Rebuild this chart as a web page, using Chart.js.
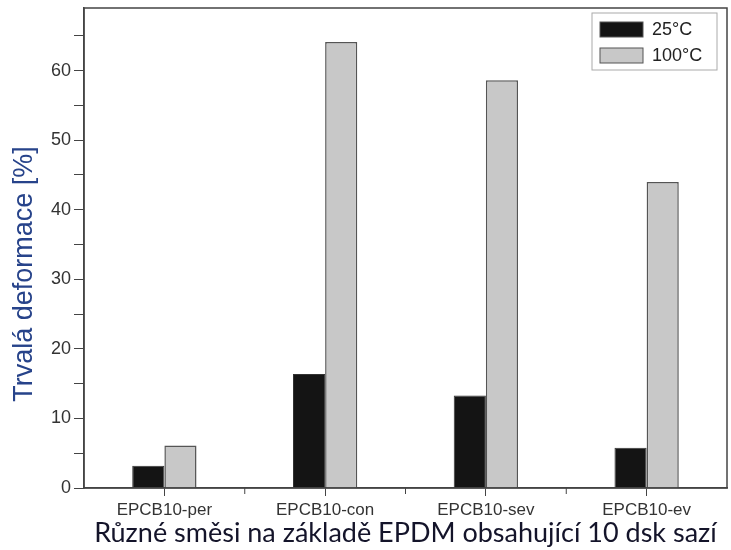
<!DOCTYPE html>
<html>
<head>
<meta charset="utf-8">
<script src="https://cdn.jsdelivr.net/npm/chart.js@4/dist/chart.umd.min.js"></script>
<style>
  html, body { margin: 0; padding: 0; background: #fff; }
  #wrap { width: 731px; height: 550px; }
</style>
</head>
<body>
<div id="wrap"><canvas id="chart" width="731" height="550"></canvas></div>
<script>
const categories = ['EPCB10-per', 'EPCB10-con', 'EPCB10-sev', 'EPCB10-ev'];
const values25 = [3.2, 16.4, 13.3, 5.8];
const values100 = [6.1, 64.1, 58.6, 44.0];
const seriesNames = ['25°C', '100°C'];
const yTitle = 'Trvalá deformace [%]';
const xTitle = 'Různé směsi na základě EPDM obsahující 10 dsk sazí';
const yMax = 69;

const arial = '"Liberation Sans", Arial, sans-serif';

// frame around the plot, minor ticks between categories, y title
const framePlugin = {
  id: 'frame',
  afterDraw(chart) {
    const ctx = chart.ctx;
    const a = chart.chartArea;
    const x = chart.scales.x;
    ctx.save();
    ctx.strokeStyle = '#444';
    ctx.lineWidth = 1.5;
    ctx.strokeRect(a.left, a.top, a.right - a.left, a.bottom - a.top);
    ctx.lineWidth = 1;
    for (let i = 0; i < categories.length - 1; i++) {
      const px = (x.getPixelForValue(i) + x.getPixelForValue(i + 1)) / 2;
      ctx.beginPath();
      ctx.moveTo(px, a.bottom);
      ctx.lineTo(px, a.bottom + 6);
      ctx.stroke();
    }
    // y axis title sits a bit below the middle of the axis
    ctx.translate(25, a.bottom - 214);
    ctx.rotate(-Math.PI / 2);
    ctx.font = '27px ' + arial;
    ctx.fillStyle = '#27438a';
    ctx.textAlign = 'center';
    ctx.textBaseline = 'middle';
    ctx.fillText(yTitle, 0, 0);
    ctx.restore();
  }
};

// boxed legend in the upper right corner
const boxLegend = {
  id: 'boxLegend',
  afterDraw(chart) {
    const ctx = chart.ctx;
    const a = chart.chartArea;
    const w = 125, h = 57;
    const left = a.right - 10 - w, top = a.top + 5;
    ctx.save();
    ctx.strokeStyle = '#aaa';
    ctx.lineWidth = 1;
    ctx.strokeRect(left, top, w, h);
    ctx.font = '18px ' + arial;
    ctx.textBaseline = 'middle';
    chart.data.datasets.forEach((ds, i) => {
      const sy = top + 9 + i * 26;
      ctx.fillStyle = ds.backgroundColor;
      ctx.fillRect(left + 8, sy, 43, 15);
      ctx.strokeStyle = '#555';
      ctx.strokeRect(left + 8, sy, 43, 15);
      ctx.fillStyle = '#222';
      ctx.fillText(ds.label, left + 60, sy + 8);
    });
    ctx.restore();
  }
};

new Chart(document.getElementById('chart'), {
  type: 'bar',
  data: {
    labels: categories,
    datasets: [
      {
        label: seriesNames[0],
        data: values25,
        backgroundColor: '#141414',
        borderColor: '#333',
        borderWidth: 1,
        categoryPercentage: 0.4,
        barPercentage: 1.0
      },
      {
        label: seriesNames[1],
        data: values100,
        backgroundColor: '#c8c8c8',
        borderColor: '#555',
        borderWidth: 1.5,
        categoryPercentage: 0.4,
        barPercentage: 1.0
      }
    ]
  },
  options: {
    responsive: false,
    animation: false,
    layout: { padding: { left: 0, right: 4, top: 8, bottom: 0 } },
    plugins: {
      legend: { display: false },
      tooltip: { enabled: false }
    },
    scales: {
      x: {
        grid: {
          drawOnChartArea: false,
          drawTicks: true,
          tickLength: 8,
          offset: false,
          color: '#444'
        },
        border: { display: true, color: '#444', width: 1.5 },
        ticks: {
          color: '#333',
          font: { family: arial, size: 17 },
          padding: 4,
          maxRotation: 0
        },
        title: {
          display: true,
          text: xTitle,
          color: '#14142a',
          font: { family: 'Lato, "Open Sans", sans-serif', size: 27 },
          padding: { top: 0, bottom: 1 }
        },
        afterFit(scale) { scale.height = 62; }
      },
      y: {
        min: 0,
        max: yMax,
        grid: {
          drawOnChartArea: false,
          drawTicks: true,
          tickLength: 10,
          color(ctx) {
            return ctx.tick && ctx.tick.value % 5 === 0 ? '#444' : 'rgba(0,0,0,0)';
          }
        },
        border: { display: true, color: '#444', width: 1.5 },
        ticks: {
          stepSize: 5,
          autoSkip: false,
          color: '#333',
          font: { family: arial, size: 18 },
          padding: 3,
          callback(value) { return value % 10 === 0 ? value : ''; }
        },
        afterFit(scale) {
          scale.width = 84;
          scale.paddingTop = 0;
          scale.paddingBottom = 0;
        }
      }
    }
  },
  plugins: [framePlugin, boxLegend]
});
</script>
</body>
</html>
